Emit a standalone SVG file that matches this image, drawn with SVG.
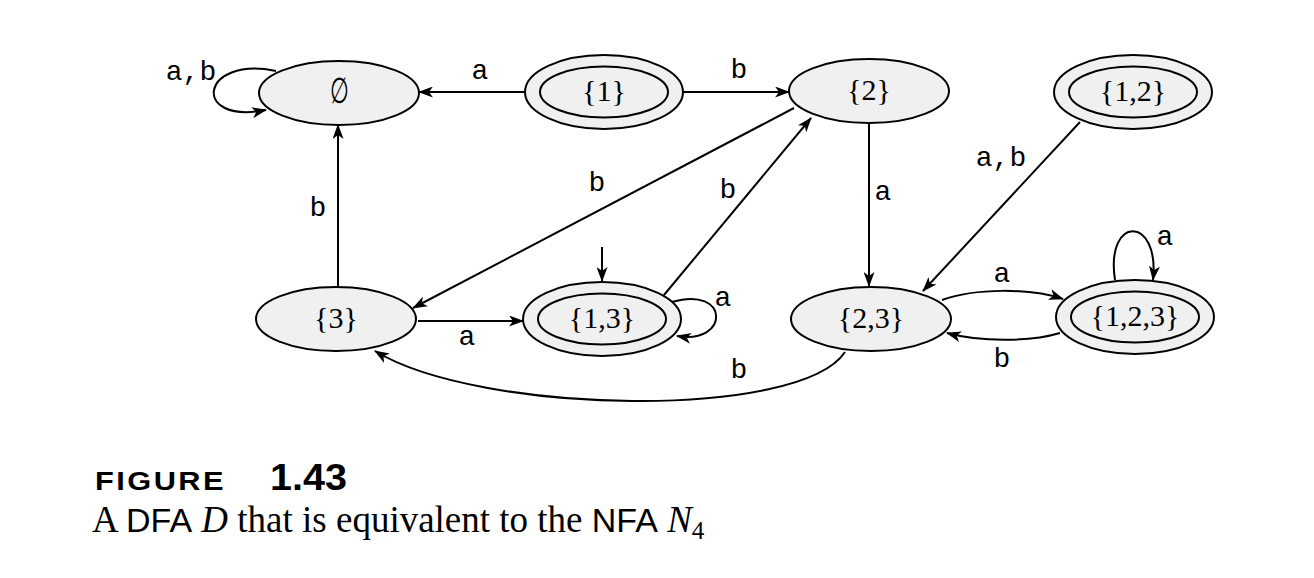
<svg xmlns="http://www.w3.org/2000/svg" width="1314" height="578" viewBox="0 0 1314 578">
<style>
.st{fill:#f0f0f0;stroke:#000;stroke-width:2}
.in{fill:none;stroke:#000;stroke-width:2}
.lbl{font-family:"Liberation Serif","DejaVu Serif",serif;font-size:30px;text-anchor:middle;fill:#000}
.e{fill:none;stroke:#000;stroke-width:2;marker-end:url(#arr)}
.el{font-family:"Liberation Mono","DejaVu Sans Mono",monospace;font-size:28px;text-anchor:middle;fill:#000}
.cap{font-family:"Liberation Serif","Times New Roman",serif;font-size:37px;fill:#000}
.sans{font-family:"Liberation Sans",Arial,sans-serif}
</style>
<defs>
<marker id="arr" viewBox="0 0 15 11" refX="14" refY="5.5" markerWidth="15" markerHeight="11" markerUnits="userSpaceOnUse" orient="auto">
<path d="M0,0 L15,5.5 L0,11 L4,5.5 z" fill="#000"/>
</marker>
</defs>
<rect width="1314" height="578" fill="#fff"/>
<g id="connectors">
<path class="e" d="M 276 71 C 200 55, 190 125, 266 110"/>
<text class="el" x="191" y="80">a,b</text>
<path class="e" d="M 525 92 L 419 92"/>
<text class="el" x="480" y="79">a</text>
<path class="e" d="M 683 92 L 789 92"/>
<text class="el" x="739" y="78">b</text>
<path class="e" d="M 794 108 L 413 308"/>
<text class="el" x="597" y="191">b</text>
<path class="e" d="M 664 295 L 811 118"/>
<text class="el" x="728" y="198">b</text>
<path class="e" d="M 338 286 L 338 125"/>
<text class="el" x="318" y="216">b</text>
<path class="e" d="M 602 247 L 602 281"/>
<path class="e" d="M 418 321 L 523 321"/>
<text class="el" x="467" y="345">a</text>
<path class="e" d="M 672 302 C 730 285, 730 345, 677 336"/>
<text class="el" x="723" y="306">a</text>
<path class="e" d="M 869 124 L 869 286"/>
<text class="el" x="883" y="200">a</text>
<path class="e" d="M 1080 122 L 923 291"/>
<text class="el" x="1001" y="166">a,b</text>
<path class="e" d="M 942 300 C 975 288, 1030 288, 1063 299"/>
<text class="el" x="1002" y="282">a</text>
<path class="e" d="M 1060 333 C 1030 342, 980 342, 947 333"/>
<text class="el" x="1002" y="367">b</text>
<path class="e" d="M 1115 280 C 1105 215, 1160 215, 1153 280"/>
<text class="el" x="1165" y="245">a</text>
<path class="e" d="M 845 352 C 800 420, 480 415, 375 351"/>
<text class="el" x="739" y="378">b</text>
</g>
<g id="n-empty">
<ellipse class="st" cx="339" cy="93" rx="80" ry="32"/>
<text class="lbl" transform="translate(339,103) scale(0.72,1.2)" x="0" y="0">∅</text>
</g>
<g id="n-1">
<ellipse class="st" cx="604" cy="92" rx="79" ry="37"/>
<ellipse class="in" cx="604" cy="92" rx="64" ry="25.5"/>
<text class="lbl" x="604" y="101">{1}</text>
</g>
<g id="n-2">
<ellipse class="st" cx="869" cy="91" rx="80" ry="32"/>
<text class="lbl" x="869" y="100">{2}</text>
</g>
<g id="n-12">
<ellipse class="st" cx="1133" cy="92" rx="79" ry="37"/>
<ellipse class="in" cx="1133" cy="92" rx="64" ry="25.5"/>
<text class="lbl" x="1133" y="101">{1,2}</text>
</g>
<g id="n-3">
<ellipse class="st" cx="336" cy="319" rx="80" ry="32"/>
<text class="lbl" x="336" y="328">{3}</text>
</g>
<g id="n-13">
<ellipse class="st" cx="602" cy="319" rx="79" ry="37"/>
<ellipse class="in" cx="602" cy="319" rx="64" ry="25.5"/>
<text class="lbl" x="602" y="328">{1,3}</text>
</g>
<g id="n-23">
<ellipse class="st" cx="871" cy="319" rx="80" ry="32"/>
<text class="lbl" x="871" y="328">{2,3}</text>
</g>
<g id="n-123">
<ellipse class="st" cx="1135" cy="317" rx="79" ry="37"/>
<ellipse class="in" cx="1135" cy="317" rx="64" ry="25.5"/>
<text class="lbl" x="1135" y="326">{1,2,3}</text>
</g>
<g id="caption">
<text class="sans" x="95" y="490" font-size="25" font-weight="bold" letter-spacing="2" textLength="131" lengthAdjust="spacingAndGlyphs">FIGURE</text>
<text class="sans" x="270" y="490" font-size="36" font-weight="bold" textLength="77" lengthAdjust="spacingAndGlyphs">1.43</text>
<text class="cap" x="92" y="532">A <tspan class="sans" font-size="34">DFA</tspan> <tspan font-style="italic">D</tspan> that is equivalent to the <tspan class="sans" font-size="34">NFA</tspan> <tspan font-style="italic">N</tspan><tspan font-size="25" dy="7">4</tspan></text>
</g>
</svg>
